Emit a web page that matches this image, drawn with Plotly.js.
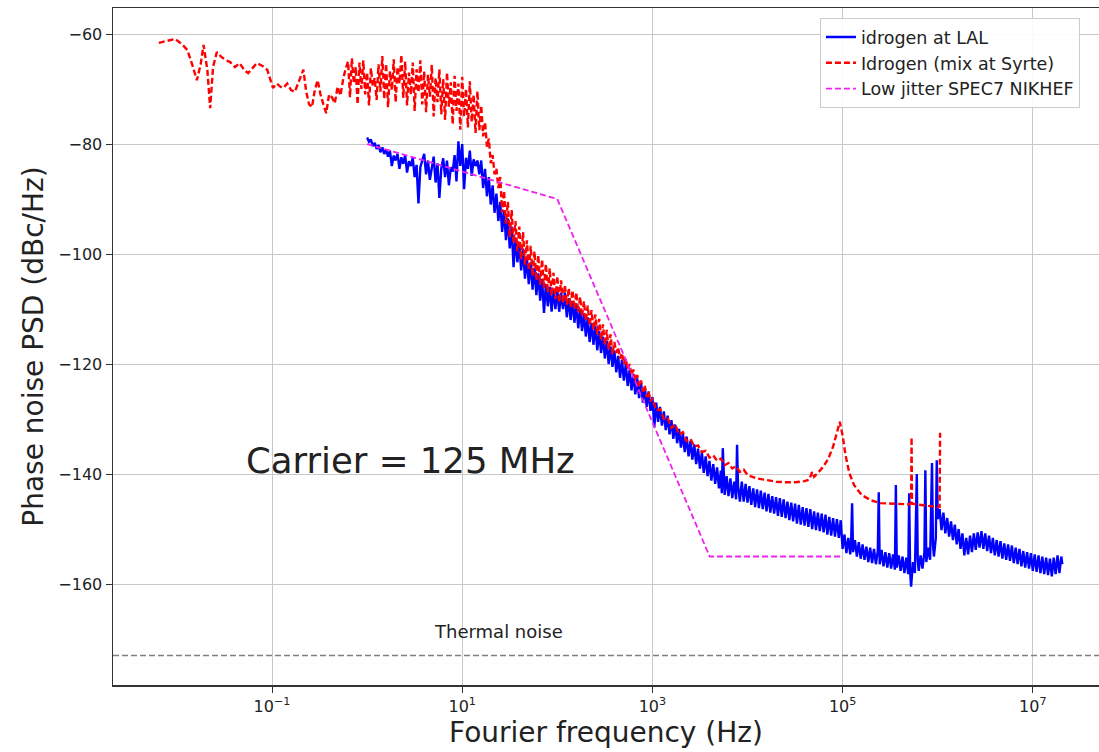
<!DOCTYPE html>
<html>
<head>
<meta charset="utf-8">
<script src="https://cdn.plot.ly/plotly-3.0.1.min.js"></script>
<style>html,body{margin:0;padding:0;background:#fff;}#chart{width:1099px;height:752px;}</style>
</head>
<body>
<div id="chart"></div>
<script>
// ---- Data (log10 of Fourier frequency in Hz, PSD in dBc/Hz) ----
const seriesNames = ['idrogen at LAL', 'Idrogen (mix at Syrte)', 'Low jitter SPEC7 NIKHEF'];

const blueLogF = [
  0.00,0.02,0.04,0.06,0.08,0.10,0.12,0.14,0.16,0.18,
  0.20,0.22,0.24,0.26,0.28,0.30,0.32,0.34,0.36,0.38,
  0.40,0.42,0.44,0.46,0.48,0.50,0.52,0.54,0.56,0.58,
  0.60,0.62,0.64,0.66,0.68,0.70,0.72,0.74,0.76,0.78,
  0.80,0.82,0.84,0.86,0.88,0.90,0.92,0.94,0.96,0.98,
  1.00,1.02,1.04,1.06,1.08,1.10,1.12,1.14,1.16,1.18,
  1.20,1.22,1.24,1.26,1.28,1.30,1.32,1.34,1.36,1.38,
  1.40,1.42,1.44,1.46,1.48,1.50,1.52,1.54,1.56,1.58,
  1.60,1.62,1.64,1.66,1.68,1.70,1.72,1.74,1.76,1.78,
  1.80,1.82,1.84,1.86,1.88,1.90,1.92,1.94,1.96,1.98,
  2.00,2.02,2.04,2.06,2.08,2.10,2.12,2.14,2.16,2.18,
  2.20,2.22,2.24,2.26,2.28,2.30,2.32,2.34,2.36,2.38,
  2.40,2.42,2.44,2.46,2.48,2.50,2.52,2.54,2.56,2.58,
  2.60,2.62,2.64,2.66,2.68,2.70,2.72,2.74,2.76,2.78,
  2.80,2.82,2.84,2.86,2.88,2.90,2.92,2.94,2.96,2.98,
  3.00,3.02,3.04,3.06,3.08,3.10,3.12,3.14,3.16,3.18,
  3.20,3.22,3.24,3.26,3.28,3.30,3.32,3.34,3.36,3.38,
  3.40,3.42,3.44,3.46,3.48,3.50,3.52,3.54,3.56,3.58,
  3.60,3.62,3.64,3.66,3.68,3.70,3.72,3.73,3.74,3.75,
  3.76,3.78,3.80,3.82,3.84,3.86,3.88,3.89,3.90,3.92,
  3.94,3.96,3.98,4.00,4.02,4.04,4.06,4.08,4.10,4.12,
  4.14,4.16,4.18,4.20,4.22,4.24,4.26,4.28,4.30,4.32,
  4.34,4.36,4.38,4.40,4.42,4.44,4.46,4.48,4.50,4.52,
  4.54,4.56,4.58,4.60,4.62,4.64,4.66,4.68,4.70,4.72,
  4.74,4.76,4.78,4.80,4.82,4.84,4.86,4.88,4.90,4.92,
  4.94,4.96,4.98,5.00,5.02,5.04,5.06,5.08,5.09,5.10,
  5.11,5.13,5.15,5.17,5.19,5.21,5.23,5.25,5.27,5.29,
  5.31,5.33,5.35,5.37,5.38,5.39,5.41,5.43,5.45,5.47,
  5.49,5.51,5.53,5.55,5.56,5.57,5.59,5.61,5.63,5.65,
  5.67,5.69,5.70,5.71,5.72,5.74,5.76,5.78,5.79,5.80,
  5.82,5.84,5.86,5.87,5.88,5.90,5.92,5.94,5.95,5.96,
  5.98,5.99,6.00,6.02,6.04,6.06,6.08,6.10,6.12,6.14,
  6.16,6.18,6.20,6.22,6.24,6.26,6.28,6.30,6.32,6.34,
  6.36,6.38,6.40,6.42,6.44,6.46,6.48,6.50,6.52,6.54,
  6.56,6.58,6.60,6.62,6.64,6.66,6.68,6.70,6.72,6.74,
  6.76,6.78,6.80,6.82,6.84,6.86,6.88,6.90,6.92,6.94,
  6.96,6.98,7.00,7.02,7.04,7.06,7.08,7.10,7.12,7.14,
  7.16,7.18,7.20,7.22,7.24,7.26,7.28,7.30,7.31
];
const bluePSD = [
  -78.8,-79.6,-79.2,-80.4,-79.8,-80.9,-80.2,-81.5,-80.6,-81.8,
  -81.0,-82.3,-81.2,-84.0,-82.1,-83.0,-81.8,-84.5,-82.4,-83.6,
  -82.0,-85.2,-83.1,-84.0,-82.5,-86.0,-83.8,-90.8,-84.2,-83.0,
  -81.8,-85.5,-83.0,-86.5,-84.0,-82.3,-87.0,-83.5,-89.8,-84.5,
  -82.6,-86.0,-83.0,-87.5,-84.2,-85.0,-82.0,-86.8,-79.5,-84.0,
  -80.0,-88.2,-82.5,-84.5,-81.2,-85.8,-82.8,-84.0,-83.0,-85.5,
  -83.0,-88.0,-84.5,-89.5,-86.0,-91.0,-87.5,-92.5,-89.0,-94.0,
  -90.5,-96.0,-92.0,-97.5,-93.5,-99.0,-95.0,-102.4,-97.0,-101.5,
  -98.0,-103.0,-99.0,-104.5,-100.5,-105.5,-101.5,-106.5,-102.5,-107.5,
  -103.5,-108.5,-104.5,-110.7,-105.5,-109.5,-106.0,-110.5,-106.5,-110.0,
  -106.5,-110.5,-107.0,-110.0,-107.0,-111.5,-108.0,-112.0,-108.5,-112.5,
  -109.0,-113.5,-110.0,-114.0,-110.8,-115.0,-111.5,-116.0,-112.5,-116.5,
  -113.0,-117.5,-114.0,-118.0,-115.0,-119.0,-115.8,-120.0,-116.8,-120.5,
  -117.5,-121.5,-118.5,-122.5,-119.2,-123.0,-120.0,-124.0,-121.0,-124.8,
  -121.8,-125.5,-122.6,-126.2,-123.4,-127.0,-124.2,-127.8,-125.0,-128.5,
  -126.0,-131.5,-127.0,-130.5,-127.8,-131.2,-128.6,-132.0,-129.4,-132.8,
  -130.2,-133.6,-131.0,-134.4,-131.8,-135.2,-132.6,-136.0,-133.2,-136.8,
  -134.0,-137.4,-134.6,-138.2,-135.4,-139.0,-136.0,-139.8,-136.8,-140.4,
  -137.6,-141.2,-138.2,-141.8,-138.8,-142.6,-139.4,-143.5,-135.3,-140.5,
  -143.8,-140.4,-144.0,-140.8,-144.4,-141.4,-144.6,-134.7,-142.0,-145.0,
  -141.4,-145.0,-141.8,-145.2,-142.2,-145.6,-142.6,-146.0,-142.8,-146.2,
  -143.0,-146.4,-143.4,-146.8,-143.6,-147.0,-144.0,-147.2,-144.2,-147.6,
  -144.4,-147.8,-144.6,-148.0,-145.0,-148.4,-145.2,-148.6,-145.4,-149.0,
  -145.6,-149.2,-146.0,-149.4,-146.2,-149.6,-146.4,-150.0,-146.8,-150.2,
  -147.0,-150.4,-147.2,-150.6,-147.4,-151.0,-147.8,-151.2,-148.0,-151.4,
  -148.2,-151.6,-148.4,-153.6,-151.0,-154.4,-151.6,-154.6,-152.0,-145.3,
  -154.2,-152.0,-155.0,-152.4,-155.4,-152.8,-155.6,-153.2,-156.0,-153.4,
  -156.2,-153.6,-156.4,-154.0,-143.3,-156.4,-153.8,-156.8,-154.2,-157.0,
  -154.4,-157.2,-154.6,-157.4,-142.0,-157.0,-154.8,-157.6,-155.0,-158.0,
  -155.2,-158.2,-143.5,-157.8,-160.5,-156.0,-158.0,-140.0,-155.6,-157.6,
  -154.8,-157.2,-154.2,-139.3,-156.0,-153.4,-155.6,-138.0,-152.8,-155.0,
  -151.6,-137.5,-148.2,-146.4,-150.2,-147.0,-150.8,-148.0,-151.4,-148.6,
  -152.0,-149.2,-152.8,-150.0,-153.6,-150.8,-154.8,-151.6,-154.6,-151.2,
  -154.2,-150.8,-153.8,-150.6,-153.4,-150.4,-153.6,-150.8,-154.0,-151.2,
  -154.4,-151.6,-154.8,-152.0,-155.0,-152.2,-155.4,-152.6,-155.6,-152.8,
  -155.8,-153.0,-156.2,-153.4,-156.4,-153.6,-156.8,-154.0,-157.0,-154.2,
  -157.2,-154.4,-157.6,-154.6,-157.8,-154.8,-158.0,-155.0,-158.2,-155.2,
  -158.4,-155.4,-158.6,-155.2,-158.2,-154.8,-158.0,-155.0,-156.4
];

const redLogF = [
  -2.19,-2.10,-2.02,-1.95,-1.89,-1.84,-1.79,-1.75,-1.72,-1.68,
  -1.65,-1.62,-1.58,-1.53,-1.48,-1.44,-1.39,-1.34,-1.29,-1.25,
  -1.20,-1.16,-1.10,-1.05,-0.99,-0.95,-0.91,-0.88,-0.84,-0.80,
  -0.76,-0.72,-0.67,-0.64,-0.61,-0.58,-0.55,-0.52,-0.49,-0.46,
  -0.43,-0.40,-0.37,-0.34,-0.31,-0.28,-0.25,-0.22,
  -0.20,-0.18,-0.16,-0.14,-0.12,-0.10,-0.08,-0.06,-0.04,-0.02,
  0.00,0.02,0.04,0.06,0.08,0.10,0.12,0.14,0.16,0.18,
  0.20,0.22,0.24,0.26,0.28,0.30,0.32,0.34,0.36,0.38,
  0.40,0.42,0.44,0.46,0.48,0.50,0.52,0.54,0.56,0.58,
  0.60,0.62,0.64,0.66,0.68,0.70,0.72,0.74,0.76,0.78,
  0.80,0.82,0.84,0.86,0.88,0.90,0.92,0.94,0.96,0.98,
  1.00,1.02,1.04,1.06,1.08,1.10,1.12,1.14,1.16,1.18,
  1.20,1.22,1.24,1.26,1.28,1.30,1.32,1.34,1.36,1.38,
  1.40,1.42,1.44,1.46,1.48,1.50,1.52,1.54,1.56,1.58,
  1.60,1.62,1.64,1.66,1.68,1.70,1.72,1.74,1.76,1.78,
  1.80,1.82,1.84,1.86,1.88,1.90,1.92,1.94,1.96,1.98,
  2.00,2.02,2.04,2.06,2.08,2.10,2.12,2.14,2.16,2.18,
  2.20,2.22,2.24,2.26,2.28,2.30,2.32,2.34,2.36,2.38,
  2.40,2.42,2.44,2.46,2.48,2.50,2.52,2.54,2.56,2.58,
  2.60,2.62,2.64,2.66,2.68,2.70,2.72,2.74,2.76,2.78,
  2.80,2.82,2.84,2.86,2.88,2.90,2.92,2.94,2.96,2.98,
  3.00,3.04,3.08,3.12,3.16,3.20,3.24,3.28,3.32,3.36,
  3.40,3.44,3.48,3.52,3.56,3.60,3.64,3.68,3.72,3.76,
  3.80,3.84,3.88,3.92,3.96,4.00,
  4.10,4.20,4.30,4.40,4.50,4.60,4.65,4.68,4.70,4.75,
  4.80,4.85,4.90,4.94,4.97,5.00,5.03,5.07,5.12,5.20,
  5.30,5.40,5.50,5.60,5.70,5.72,5.725,5.73,5.80,5.90,
  6.00,6.02,6.025
];
const redPSD = [
  -61.6,-61.2,-60.9,-61.8,-62.9,-65.5,-68.4,-65.5,-62.0,-66.5,
  -73.5,-66.0,-63.3,-64.2,-64.8,-65.1,-66.0,-65.3,-66.6,-67.1,
  -66.0,-65.3,-65.8,-66.5,-69.8,-69.0,-69.6,-69.8,-69.0,-70.2,
  -70.5,-68.8,-66.5,-70.5,-72.8,-73.3,-70.2,-68.4,-71.0,-72.8,
  -74.4,-71.0,-71.5,-72.6,-69.6,-71.2,-68.0,-66.0,
  -65.0,-71.5,-64.4,-69.0,-66.0,-72.8,-65.2,-70.0,-64.8,-71.0,
  -67.0,-73.0,-66.2,-69.5,-68.0,-72.0,-65.5,-70.5,-64.0,-71.8,
  -65.4,-73.3,-66.8,-70.2,-64.6,-72.4,-66.0,-69.0,-63.8,-71.6,
  -65.0,-73.0,-67.0,-71.0,-65.2,-74.0,-66.4,-70.6,-64.8,-72.8,
  -66.8,-74.2,-67.4,-71.4,-65.6,-75.0,-68.0,-72.4,-66.4,-74.6,
  -68.2,-75.6,-67.0,-73.2,-68.8,-76.4,-67.6,-74.0,-69.0,-77.4,
  -67.8,-75.0,-70.0,-77.0,-68.6,-76.0,-71.0,-78.0,-70.4,-77.5,
  -73.0,-78.6,-76.0,-80.5,-79.0,-83.5,-82.0,-85.5,-84.5,-88.0,
  -86.0,-92.5,-88.5,-94.5,-90.5,-97.0,-92.0,-98.0,-94.0,-99.5,
  -95.0,-101.0,-96.0,-102.0,-97.5,-103.0,-98.5,-104.0,-99.5,-104.8,
  -100.2,-105.6,-101.0,-106.2,-101.8,-107.0,-102.6,-107.6,-103.4,-108.2,
  -104.0,-108.8,-104.8,-109.0,-105.6,-109.2,-106.2,-109.6,-106.6,-110.0,
  -107.0,-110.6,-107.8,-111.4,-108.6,-112.2,-109.4,-113.0,-110.2,-113.8,
  -111.0,-114.6,-111.8,-115.6,-112.8,-116.6,-113.8,-117.4,-114.6,-118.2,
  -116.0,-118.0,-117.0,-119.0,-118.0,-120.0,-119.0,-121.0,-120.0,-122.0,
  -121.0,-123.0,-122.0,-124.0,-123.0,-125.0,-124.0,-126.0,-125.0,-126.8,
  -126.2,-128.4,-128.2,-130.0,-129.8,-131.6,-131.0,-132.8,-132.4,-134.0,
  -133.6,-135.0,-134.8,-136.0,-135.8,-137.0,-136.6,-137.6,-137.2,-138.4,
  -138.0,-139.0,-138.6,-139.6,-139.2,-140.2,
  -140.8,-141.1,-141.4,-141.5,-141.5,-141.3,-141.0,-139.6,-140.5,-139.6,
  -138.6,-137.2,-135.0,-132.5,-130.5,-133.0,-136.5,-139.8,-142.0,-143.8,
  -144.8,-145.3,-145.4,-145.5,-145.5,-145.3,-133.3,-145.4,-145.6,-145.8,
  -146.0,-146.0,-132.5
];

const specFreqHz = [1, 100, 4000, 100000];
const specPSD = [-80, -90, -155, -155];

const thermalNoiseLevel = -173;

const xTickVals = [0.1, 10, 1000, 1e5, 1e7];
const xTickText = ['10<sup>−1</sup>', '10<sup>1</sup>', '10<sup>3</sup>', '10<sup>5</sup>', '10<sup>7</sup>'];
const yTickVals = [-60, -80, -100, -120, -140, -160];

// ---- Build chart ----
const toHz = arr => arr.map(v => Math.pow(10, v));
const FONT = 'DejaVu Sans, sans-serif';

const traces = [
  { x: toHz(blueLogF), y: bluePSD, name: seriesNames[0], type: 'scatter', mode: 'lines',
    line: { color: '#0000ff', width: 2.4 } },
  { x: toHz(redLogF), y: redPSD, name: seriesNames[1], type: 'scatter', mode: 'lines',
    line: { color: '#ff0000', width: 2.4, dash: '6px,3px' } },
  { x: specFreqHz, y: specPSD, name: seriesNames[2], type: 'scatter', mode: 'lines',
    line: { color: '#ee22ee', width: 1.8, dash: '6px,3px' } }
];

const layout = {
  width: 1099, height: 752,
  margin: { l: 113, r: 0, t: 8, b: 67 },
  paper_bgcolor: '#ffffff', plot_bgcolor: '#ffffff',
  font: { family: FONT, color: '#222' },
  showlegend: true,
  legend: {
    x: 0.717, y: 0.985, xanchor: 'left', yanchor: 'top',
    bgcolor: 'rgba(255,255,255,0.9)', bordercolor: '#cccccc', borderwidth: 1,
    font: { family: FONT, size: 17.5, color: '#222' }
  },
  xaxis: {
    type: 'log', range: [-2.672, 7.696],
    tickvals: xTickVals, ticktext: xTickText,
    showgrid: true, gridcolor: '#c8c8c8', gridwidth: 1,
    ticks: 'outside', ticklen: 6, tickcolor: '#333', tickwidth: 1,
    showline: true, mirror: true, linecolor: '#333', linewidth: 1.5,
    zeroline: false,
    tickfont: { family: FONT, size: 16, color: '#222' },
    title: { text: 'Fourier frequency (Hz)', font: { family: FONT, size: 28, color: '#222' }, standoff: 4 }
  },
  yaxis: {
    range: [-178.36, -55.27],
    tickvals: yTickVals,
    showgrid: true, gridcolor: '#c8c8c8', gridwidth: 1,
    ticks: 'outside', ticklen: 6, tickcolor: '#333', tickwidth: 1,
    showline: true, mirror: false, linecolor: '#333', linewidth: 1.5,
    zeroline: false,
    tickfont: { family: FONT, size: 16, color: '#222' },
    title: { text: 'Phase noise PSD (dBc/Hz)', font: { family: FONT, size: 28, color: '#222' }, standoff: 6 }
  },
  shapes: [
    { type: 'line', xref: 'paper', yref: 'y', x0: 0, x1: 1, y0: thermalNoiseLevel, y1: thermalNoiseLevel,
      line: { color: '#808080', width: 1.6, dash: '6px,3px' } }
  ],
  annotations: [
    { xref: 'x', yref: 'y', x: 0.456, y: -137.5, text: 'Carrier = 125 MHz', showarrow: false,
      font: { family: FONT, size: 35.5, color: '#222' } },
    { xref: 'x', yref: 'y', x: 1.382, y: -168.7, text: 'Thermal noise', showarrow: false,
      font: { family: FONT, size: 18, color: '#222' } }
  ]
};

Plotly.newPlot('chart', traces, layout, { displayModeBar: false, staticPlot: true });
</script>
</body>
</html>
